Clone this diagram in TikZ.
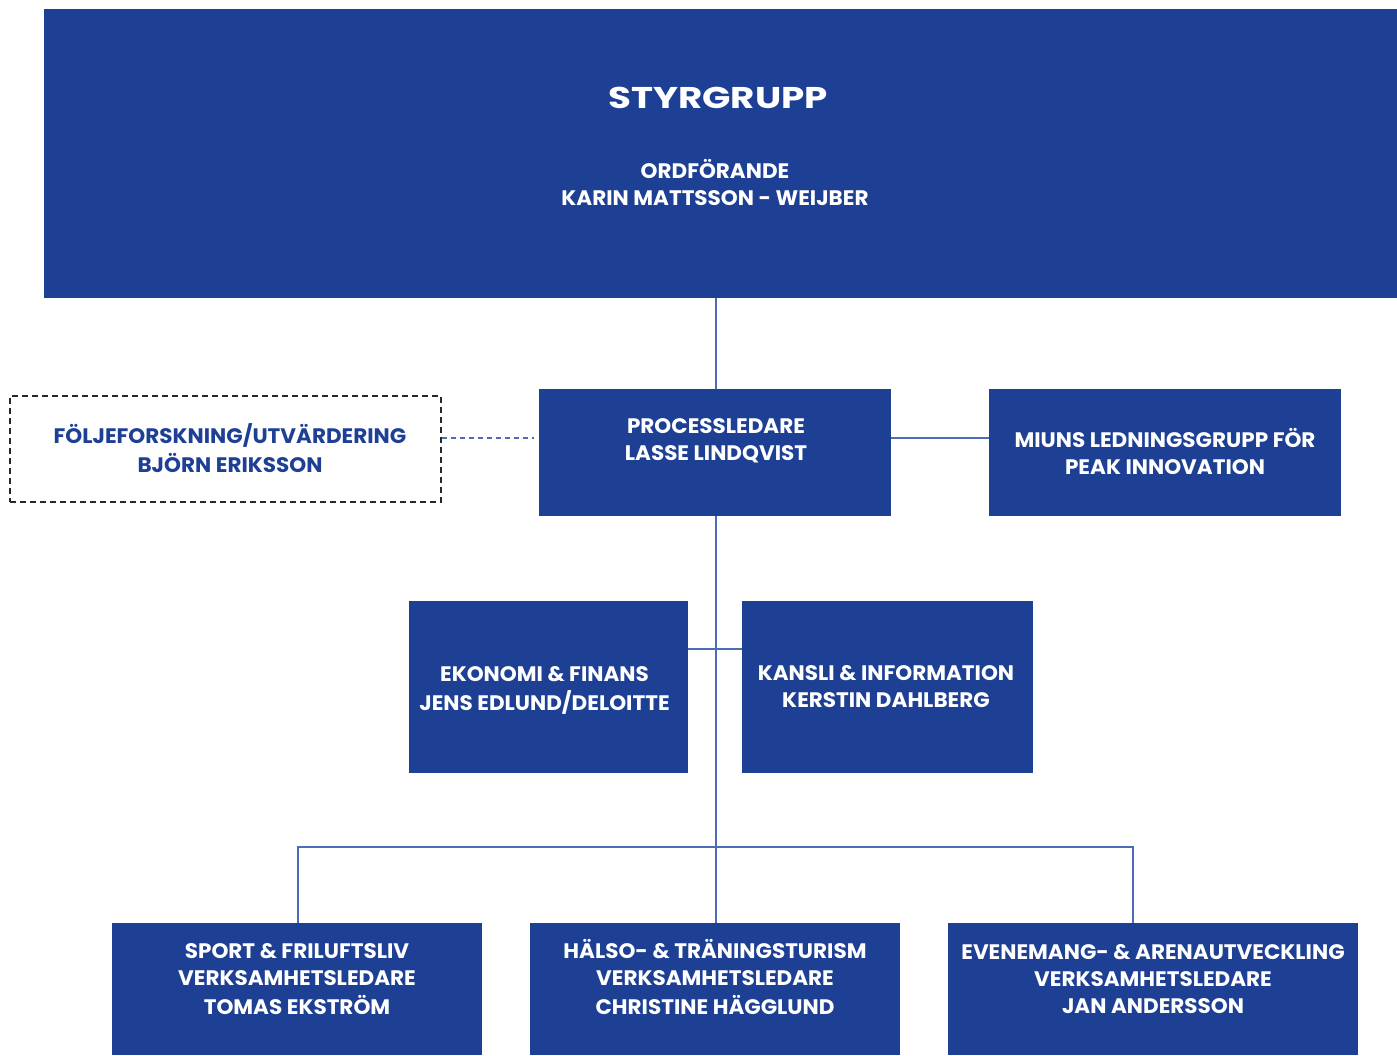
\documentclass[tikz,border=0pt]{standalone}
\usepackage{fontspec}
\setmainfont{Poppins}
\newfontfamily\bodyfont{Poppins}[FakeStretch=1.025]
\newfontfamily\titlefont{Poppins}[FakeStretch=1.24]
\definecolor{nblue}{RGB}{29,63,148}
\definecolor{lblue}{RGB}{78,108,182}
\definecolor{dgray}{RGB}{40,40,40}
\begin{document}
\begin{tikzpicture}[x=1pt,y=-1pt,
  blk/.style 2 args={fill=nblue, draw=none, inner sep=0, minimum width=#1pt, minimum height=#2pt},
  txt/.style={text=white, font=\bodyfont\fontsize{21}{27}\selectfont\bfseries, align=center, inner sep=0},
  dtxt/.style={txt, text=nblue},
  conn/.style={draw=lblue, line width=1.3pt},
  dconn/.style={draw=lblue, line width=1.2pt, dash pattern=on 5pt off 4pt}]
\useasboundingbox (0,0) rectangle (1397,1055);
% boxes
\node[blk={1353}{289}] (styr) at (720.5,153.5) {};
\node[blk={352}{127}] (proc) at (715,452.5) {};
\node[blk={352}{127}] (miuns) at (1165,452.5) {};
\node[draw=dgray, line width=1.2pt, dash pattern=on 6pt off 4pt, inner sep=0, minimum width=431pt, minimum height=106pt] (foel) at (225.5,449) {};
\node[blk={279}{172}] (eko) at (548.5,687) {};
\node[blk={291}{172}] (kansli) at (887.5,687) {};
\node[blk={370}{132}] (sport) at (297,989) {};
\node[blk={370}{132}] (halso) at (715,989) {};
\node[blk={410}{132}] (even) at (1153,989) {};
% texts
\node[txt, font=\titlefont\fontsize{30}{36}\selectfont\bfseries] (styrT) at (718,101) {\strut STYRGRUPP};
\node[txt] (styrS) at (715,186.5) {\strut ORDFÖRANDE\\\strut KARIN MATTSSON - WEIJBER};
\node[txt] (procT) at (716,442) {\strut PROCESSLEDARE\\\strut LASSE LINDQVIST};
\node[txt] (miunsT) at (1165,455.5) {\strut MIUNS LEDNINGSGRUPP FÖR\\\strut PEAK INNOVATION};
\node[dtxt] (foelT) at (230,452) {\strut FÖLJEFORSKNING/UTVÄRDERING\\\strut BJÖRN ERIKSSON};
\node[txt] (ekoT) at (544.5,691) {\strut EKONOMI \& FINANS\\\strut JENS EDLUND/DELOITTE};
\node[txt] (kansliT) at (886,688.5) {\strut KANSLI \& INFORMATION\\\strut KERSTIN DAHLBERG};
\node[txt] (sportT) at (297,981) {\strut SPORT \& FRILUFTSLIV\\\strut VERKSAMHETSLEDARE\\\strut TOMAS EKSTRÖM};
\node[txt] (halsoT) at (715,981) {\strut HÄLSO- \& TRÄNINGSTURISM\\\strut VERKSAMHETSLEDARE\\\strut CHRISTINE HÄGGLUND};
\node[txt] (evenT) at (1153,981) {\strut EVENEMANG- \& ARENAUTVECKLING\\\strut VERKSAMHETSLEDARE\\\strut JAN ANDERSSON};
% connectors
\coordinate (bus) at (716,847);
\draw[conn] ([xshift=1pt]proc.north) -- ([xshift=1pt]proc.north |- styr.south);
\draw[conn] ([xshift=1pt]proc.south) -- ([xshift=1pt]halso.north);
\draw[conn] ([yshift=14.5pt]proc.east) -- ([yshift=14.5pt]proc.east -| miuns.west);
\draw[dconn, shorten >=5pt] ([yshift=11pt]foel.east) -- ([yshift=11pt]foel.east -| proc.west);
\draw[conn] ([yshift=38pt]eko.east) -- ([yshift=38pt]kansli.west);
\draw[conn] ([xshift=1pt]sport.north) |- (bus) -| ([xshift=-20pt]even.north);
\end{tikzpicture}
\end{document}
